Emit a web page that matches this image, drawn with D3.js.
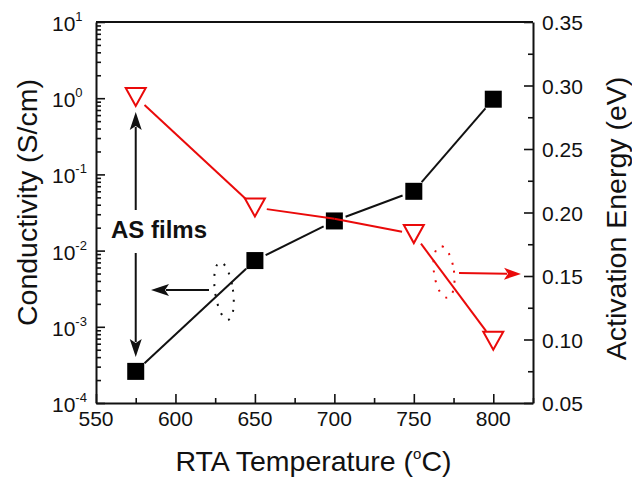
<!DOCTYPE html>
<html>
<head>
<meta charset="utf-8">
<script src="https://cdn.jsdelivr.net/npm/d3@7"></script>
<style>
  body { margin: 0; background: #fff; }
  text { font-family: "Liberation Sans", Arial, sans-serif; fill: #111; }
</style>
</head>
<body>
<div id="chart"></div>
<script>
// data
const temps = [575, 650, 700, 750, 800];
const conductivity = [2.6e-4, 7.4e-3, 2.45e-2, 6.0e-2, 0.97];
const energy = [0.291, 0.204, 0.195, 0.183, 0.099];
const energyMarked = [true, true, false, true, true]; // 700 point sits under the square
const xTicks = [550, 600, 650, 700, 750, 800];
const leftExps = [-4, -3, -2, -1, 0, 1];
const rightTicks = [0.05, 0.10, 0.15, 0.20, 0.25, 0.30, 0.35];

const svgWidth = 632;
const svgHeight = 480;
const margin = { top: 22, right: 99, bottom: 77, left: 96 };
const red = "#ea0a0a";

const svg = d3.select("#chart")
    .append("svg")
    .attr("width", svgWidth)
    .attr("height", svgHeight);

const x = d3.scaleLinear().domain([550, 825]).range([margin.left, svgWidth - margin.right]);
const yL = d3.scaleLog().domain([1e-4, 1e1]).range([svgHeight - margin.bottom, margin.top]);
const yR = d3.scaleLinear().domain([0.05, 0.35]).range([svgHeight - margin.bottom, margin.top]);
const x0 = x.range()[0], x1 = x.range()[1], yb = yL.range()[0], yt = yL.range()[1];

// axes (ticks pointing inward, labels drawn by hand below)
const bottomAxis = d3.axisBottom(x).tickValues(d3.range(550, 826, 25)).tickSizeInner(-5).tickSizeOuter(0).tickFormat("");
const gx = svg.append("g").attr("transform", `translate(0,${yb})`).call(bottomAxis);
gx.selectAll(".tick line").filter(d => d % 50 === 0).attr("y2", -9);

const logTicks = [];
leftExps.slice(0, -1).forEach(e => { for (let k = 1; k <= 9; k++) logTicks.push(k * Math.pow(10, e)); });
logTicks.push(10);
const leftAxis = d3.axisLeft(yL).tickValues(logTicks).tickSizeInner(-5).tickSizeOuter(0).tickFormat("");
const gl = svg.append("g").attr("transform", `translate(${x0},0)`).call(leftAxis);
gl.selectAll(".tick line").filter(d => Math.abs(Math.log10(d) - Math.round(Math.log10(d))) < 1e-6).attr("x2", 9);

const rightAxis = d3.axisRight(yR).tickValues(d3.range(0.05, 0.351, 0.025)).tickSizeInner(-5).tickSizeOuter(0).tickFormat("");
const gr = svg.append("g").attr("transform", `translate(${x1},0)`).call(rightAxis);
gr.selectAll(".tick line").filter((d, i) => i % 2 === 0).attr("x2", -9);

svg.selectAll(".domain").attr("stroke-width", 2).attr("stroke", "#111");
svg.selectAll(".tick line").attr("stroke-width", 1.6).attr("stroke", "#111");
svg.append("line").attr("x1", x0).attr("x2", x1).attr("y1", yt).attr("y2", yt)
    .attr("stroke", "#111").attr("stroke-width", 2);

// tick labels
svg.append("g").selectAll("text").data(xTicks).join("text")
    .attr("x", d => x(d)).attr("y", yb + 23)
    .attr("text-anchor", "middle").attr("font-size", 21)
    .text(d => d);

const ll = svg.append("g").selectAll("text").data(leftExps).join("text")
    .attr("x", x0 - 44).attr("y", d => yL(Math.pow(10, d)) + 9)
    .attr("font-size", 21);
ll.append("tspan").text("10");
ll.append("tspan").attr("dy", -10).attr("font-size", 13).text(d => d);

svg.append("g").selectAll("text").data(rightTicks).join("text")
    .attr("x", x1 + 9).attr("y", d => yR(d) + 8)
    .attr("font-size", 21)
    .text(d => d.toFixed(2));

// axis titles
const xt = svg.append("text").attr("x", (x0 + x1) / 2 - 1).attr("y", 471)
    .attr("text-anchor", "middle").attr("font-size", 28.5);
xt.append("tspan").text("RTA Temperature (");
xt.append("tspan").attr("dy", -12).attr("font-size", 15).text("o");
xt.append("tspan").attr("dy", 12).text("C)");

svg.append("text").attr("transform", `translate(37,${(yt + yb) / 2 - 10}) rotate(-90)`)
    .attr("text-anchor", "middle").attr("font-size", 28.5)
    .text("Conductivity (S/cm)");
svg.append("text").attr("transform", `translate(626,${(yt + yb) / 2 + 6}) rotate(-90)`)
    .attr("text-anchor", "middle").attr("font-size", 28.5)
    .text("Activation Energy (eV)");

// connecting segments, trimmed near markers like the original
function segments(g, pts, color, gapA, gapB) {
    for (let i = 0; i < pts.length - 1; i++) {
        const a = pts[i], b = pts[i + 1];
        const dx = b.x - a.x, dy = b.y - a.y, len = Math.hypot(dx, dy);
        const ga = a.m ? gapA : 0, gb = b.m ? gapB : 0;
        g.append("line")
            .attr("x1", a.x + dx * ga / len).attr("y1", a.y + dy * ga / len)
            .attr("x2", b.x - dx * gb / len).attr("y2", b.y - dy * gb / len)
            .attr("stroke", color).attr("stroke-width", 2);
    }
}

const condPts = temps.map((t, i) => ({ x: x(t), y: yL(conductivity[i]), m: true }));
const enPts = temps.map((t, i) => ({ x: x(t), y: yR(energy[i]), m: energyMarked[i] }));

segments(svg.append("g"), condPts, "#111", 12, 12);
svg.append("g").selectAll("rect").data(condPts).join("rect")
    .attr("x", d => d.x - 8.5).attr("y", d => d.y - 8.5)
    .attr("width", 17).attr("height", 17).attr("fill", "#000");

segments(svg.append("g"), enPts, red, 12, 12);
svg.append("g").selectAll("path").data(enPts.filter(d => d.m)).join("path")
    .attr("d", d => `M${d.x - 10},${d.y - 9}L${d.x + 10},${d.y - 9}L${d.x},${d.y + 9}Z`)
    .attr("fill", "#fff").attr("stroke", red).attr("stroke-width", 2);

// annotations
function arrow(xa, ya, xb, yb2, color, hl, hw) {
    const dx = xb - xa, dy = yb2 - ya, len = Math.hypot(dx, dy);
    const ux = dx / len, uy = dy / len;
    const bx = xb - ux * hl, by = yb2 - uy * hl;
    svg.append("line").attr("x1", xa).attr("y1", ya).attr("x2", bx + ux * 3).attr("y2", by + uy * 3)
        .attr("stroke", color).attr("stroke-width", 2);
    svg.append("path")
        .attr("d", `M${xb},${yb2}L${bx - uy * hw / 2},${by + ux * hw / 2}L${bx + ux * 4},${by + uy * 4}L${bx + uy * hw / 2},${by - ux * hw / 2}Z`)
        .attr("fill", color);
}

const asX = x(575);
arrow(asX, 210, asX, 112, "#111", 18, 12);
arrow(asX, 253, asX, 357, "#111", 18, 12);
svg.append("text").attr("x", 111).attr("y", 238)
    .attr("font-size", 24).attr("font-weight", "bold").text("AS films");

arrow(209, 290, 151, 290, "#111", 18, 12);
svg.append("ellipse").attr("cx", 224).attr("cy", 291).attr("rx", 9).attr("ry", 29)
    .attr("transform", "rotate(-8,224,291)")
    .attr("fill", "none").attr("stroke", "#111").attr("stroke-width", 2)
    .attr("stroke-dasharray", "2,8");

arrow(459, 273, 521, 274, red, 17, 12);
svg.append("ellipse").attr("cx", 444).attr("cy", 272).attr("rx", 10).attr("ry", 26)
    .attr("transform", "rotate(-8,444,272)")
    .attr("fill", "none").attr("stroke", red).attr("stroke-width", 2)
    .attr("stroke-dasharray", "2,8");
</script>
</body>
</html>
